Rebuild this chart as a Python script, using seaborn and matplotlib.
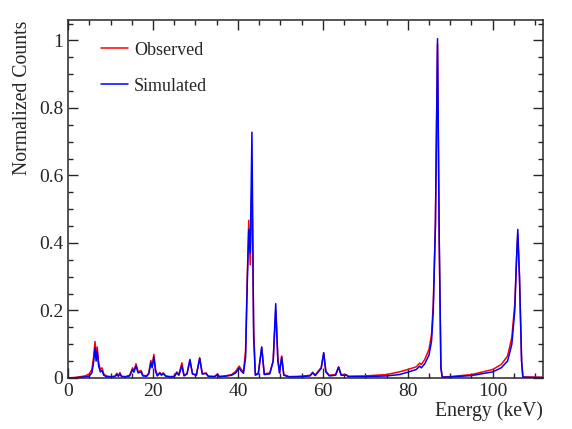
import numpy as np
import pandas as pd
import matplotlib
matplotlib.use("Agg")
import matplotlib.pyplot as plt
from matplotlib.ticker import MultipleLocator, FuncFormatter
import seaborn as sns

# spectrum (energy in keV, normalized counts)
energy = [0.0, 1.0, 2.0, 3.0, 4.0, 5.0, 5.6, 6.0, 6.35, 6.6, 6.85, 7.2, 7.6, 8.0, 8.4,
          9.0, 10.0, 11.0, 11.5, 11.85, 12.2, 12.6, 13.5, 14.5, 15.2, 15.5, 16.0, 16.5,
          17.2, 17.6, 18.5, 19.0, 19.5, 19.8, 20.2, 20.6, 21.0, 21.6, 22.0, 22.4, 23.0,
          24.0, 25.0, 25.6, 26.1, 26.8, 27.3, 28.0, 28.7, 29.3, 30.2, 31.0, 31.6, 32.5,
          33.0, 34.5, 35.2, 35.6, 37.0, 38.5, 39.5, 40.3, 40.8, 41.3, 41.8, 42.2, 42.55,
          42.9, 43.3, 43.7, 44.1, 44.8, 45.6, 46.2, 47.5, 48.3, 48.9, 49.4, 49.8, 50.3,
          50.8, 52.0, 55.0, 57.0, 57.6, 58.2, 59.2, 59.6, 60.2, 60.7, 61.5, 63.0, 63.7,
          64.3, 65.5, 66.0, 70.0, 75.0, 78.0, 80.0, 82.0, 82.8, 83.2, 84.0, 85.0, 85.6,
          86.0, 86.5, 87.0, 87.4, 87.8, 88.1, 90.0, 95.0, 100.0, 102.0, 103.5, 104.5,
          105.2, 105.6, 105.9, 106.3, 106.8, 107.1, 112.0]

observed = [0.0, 0.001, 0.002, 0.004, 0.006, 0.012, 0.025, 0.06, 0.108, 0.06, 0.092, 0.045,
            0.025, 0.03, 0.012, 0.006, 0.004, 0.005, 0.014, 0.006, 0.016, 0.005, 0.004,
            0.008, 0.03, 0.02, 0.042, 0.018, 0.022, 0.008, 0.006, 0.015, 0.052, 0.035,
            0.07, 0.025, 0.008, 0.016, 0.01, 0.015, 0.006, 0.004, 0.005, 0.018, 0.01,
            0.045, 0.008, 0.012, 0.05, 0.012, 0.008, 0.06, 0.012, 0.015, 0.005, 0.004,
            0.012, 0.004, 0.006, 0.01, 0.02, 0.035, 0.025, 0.018, 0.08, 0.3, 0.467, 0.335,
            0.585, 0.15, 0.01, 0.015, 0.09, 0.012, 0.015, 0.05, 0.2, 0.06, 0.015, 0.065,
            0.01, 0.004, 0.005, 0.008, 0.017, 0.008, 0.025, 0.03, 0.073, 0.02, 0.008,
            0.01, 0.033, 0.01, 0.01, 0.005, 0.006, 0.01, 0.018, 0.025, 0.033, 0.044, 0.04,
            0.055, 0.085, 0.13, 0.22, 0.45, 0.99, 0.4, 0.03, 0.003, 0.004, 0.01, 0.025,
            0.04, 0.065, 0.12, 0.22, 0.35, 0.425, 0.3, 0.05, 0.003, 0.002]

simulated = [0.0, 0.0, 0.001, 0.002, 0.003, 0.006, 0.015, 0.045, 0.09, 0.05, 0.08, 0.035,
             0.018, 0.022, 0.008, 0.004, 0.003, 0.004, 0.01, 0.005, 0.012, 0.004, 0.003,
             0.006, 0.025, 0.017, 0.035, 0.015, 0.018, 0.006, 0.005, 0.012, 0.045, 0.03,
             0.062, 0.02, 0.006, 0.014, 0.008, 0.013, 0.005, 0.003, 0.004, 0.015, 0.008,
             0.036, 0.006, 0.012, 0.055, 0.012, 0.008, 0.058, 0.012, 0.013, 0.005, 0.004,
             0.01, 0.004, 0.005, 0.008, 0.015, 0.03, 0.02, 0.014, 0.06, 0.28, 0.44, 0.37,
             0.728, 0.12, 0.008, 0.012, 0.092, 0.01, 0.012, 0.05, 0.22, 0.05, 0.015, 0.062,
             0.008, 0.003, 0.004, 0.006, 0.015, 0.007, 0.022, 0.028, 0.075, 0.018, 0.006,
             0.008, 0.032, 0.008, 0.008, 0.004, 0.004, 0.006, 0.01, 0.017, 0.025, 0.035,
             0.03, 0.042, 0.068, 0.11, 0.2, 0.45, 1.005, 0.42, 0.03, 0.002, 0.003, 0.007,
             0.018, 0.03, 0.05, 0.1, 0.2, 0.35, 0.44, 0.3, 0.05, 0.002, 0.001]

series_names = ["Observed", "Simulated"]
series_colors = ["#ff0000", "#0000ff"]

df = pd.concat([
    pd.DataFrame({"Energy": energy, "Counts": observed, "Series": series_names[0]}),
    pd.DataFrame({"Energy": energy, "Counts": simulated, "Series": series_names[1]}),
])

sns.set_style("ticks")
plt.rcParams["font.family"] = ["Liberation Serif", "DejaVu Serif"]

fig = plt.figure(figsize=(5.72, 4.29), dpi=100)
ax = fig.add_axes([0.119, 0.119, 0.830, 0.834])

sns.lineplot(data=df, x="Energy", y="Counts", hue="Series", hue_order=series_names,
             palette=dict(zip(series_names, series_colors)), linewidth=1.1,
             estimator=None, sort=False, ax=ax)

ax.set_xlim(0, 111.8)
ax.set_ylim(0, 1.06)
ax.xaxis.set_major_locator(MultipleLocator(20))
ax.xaxis.set_minor_locator(MultipleLocator(5))
ax.yaxis.set_major_locator(MultipleLocator(0.2))
ax.yaxis.set_minor_locator(MultipleLocator(0.05))
ax.yaxis.set_major_formatter(FuncFormatter(lambda v, p: "%g" % round(v, 2)))
ax.tick_params(which="both", direction="in", top=True, right=True, labelsize=14,
               width=1.0, pad=3.5)
ax.tick_params(which="major", length=7)
ax.tick_params(which="minor", length=3.5)
for s in ax.spines.values():
    s.set_linewidth(1.1)

ax.set_xlabel("Energy (keV)", fontsize=14.2, loc="right")
ax.xaxis.set_label_coords(1.0, -0.065)
ax.set_ylabel("Normalized Counts", fontsize=14.2, loc="top")
ax.yaxis.set_label_coords(-0.077, 1.0)

ax.legend(frameon=False, fontsize=13, loc="upper left", bbox_to_anchor=(0.055, 0.96),
          handlelength=1.5, handletextpad=0.3, labelspacing=1.05, borderaxespad=0)

fig.savefig("out.png", dpi=100)
